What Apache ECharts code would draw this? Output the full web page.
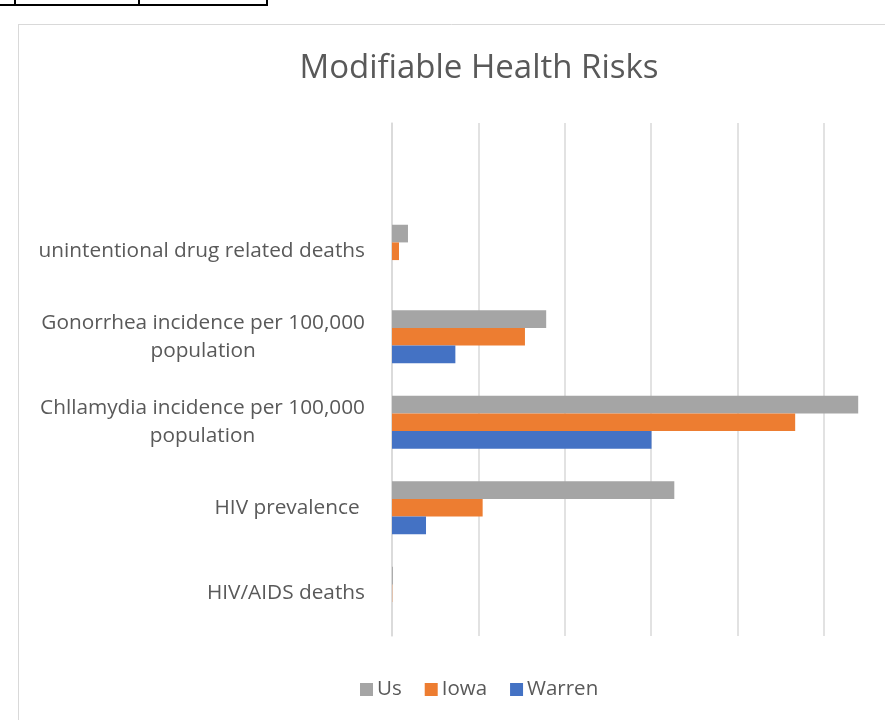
<!DOCTYPE html>
<html><head><meta charset="utf-8">
<script src="https://cdn.jsdelivr.net/npm/echarts@6/dist/echarts.min.js"></script>
<style>html,body{margin:0;padding:0;background:#fff}#c{width:892px;height:720px}</style>
</head><body><div id="c"></div>
<script>
const categories = ['HIV/AIDS deaths', 'HIV prevalence ', 'Chllamydia incidence per 100,000\npopulation', 'Gonorrhea incidence per 100,000\npopulation', 'unintentional drug related deaths', ''];
const usValues = [1, 327, 540, 178.6, 18.5, null];
const iowaValues = [0.3, 105, 467, 154, 8.1, null];
const warrenValues = [0, 39.4, 300.6, 73.4, 0, null];
const seriesNames = ['Us', 'Iowa', 'Warren'];
const colors = {Us: '#a5a5a5', Iowa: '#ed7d31', Warren: '#4472c4'};
const FONT = "'Open Sans', 'Noto Sans', sans-serif";

const chart = echarts.init(document.getElementById('c'), null, {renderer: 'canvas'});
chart.setOption({
  animation: false,
  backgroundColor: '#fff',
  title: {
    text: 'Modifiable Health Risks', left: 474, top: 47, textAlign: 'center',
    textStyle: {fontFamily: FONT, fontSize: 33, fontWeight: 'normal', color: '#595959'}
  },
  graphic: [
    {type: 'line', shape: {x1: 18, y1: 24.5, x2: 885, y2: 24.5}, style: {stroke: '#d9d9d9', lineWidth: 1}},
    {type: 'line', shape: {x1: 18.5, y1: 24, x2: 18.5, y2: 720}, style: {stroke: '#d9d9d9', lineWidth: 1}},
    {type: 'line', shape: {x1: 0, y1: 5, x2: 268, y2: 5}, style: {stroke: '#000', lineWidth: 2}},
    {type: 'line', shape: {x1: 15, y1: 0, x2: 15, y2: 6}, style: {stroke: '#000', lineWidth: 2}},
    {type: 'line', shape: {x1: 139, y1: 0, x2: 139, y2: 6}, style: {stroke: '#000', lineWidth: 2}},
    {type: 'line', shape: {x1: 267, y1: 0, x2: 267, y2: 6}, style: {stroke: '#000', lineWidth: 2}}
  ],
  legend: {
    data: seriesNames, left: 355, top: 674, itemWidth: 13, itemHeight: 13, itemGap: 23,
    icon: 'rect',
    textStyle: {fontFamily: FONT, fontSize: 20.5, color: '#595959', padding: [0, 0, 0, -1]}
  },
  grid: {left: 392, top: 123, right: -18, height: 513, containLabel: false, outerBoundsMode: 'none'},
  xAxis: {
    type: 'value', min: 0, max: 600, interval: 100,
    axisLabel: {show: false}, axisTick: {show: false}, axisLine: {show: false},
    splitLine: {show: true, lineStyle: {color: '#d9d9d9', width: 1.5}}
  },
  yAxis: {
    type: 'category', data: categories,
    axisTick: {show: false},
    axisLine: {show: true, lineStyle: {color: '#d9d9d9', width: 1.5}},
    axisLabel: {
      margin: 27, align: 'right',
      formatter: v => v.split('\n').map(l => '{c|' + l + '}').join('\n'),
      rich: {c: {fontFamily: FONT, fontSize: 20.8, color: '#595959', lineHeight: 28, align: 'center'}}
    }
  },
  series: [
    {name: 'Us', type: 'bar', data: usValues, itemStyle: {color: colors.Us}, barGap: '0%', barCategoryGap: '38%'},
    {name: 'Iowa', type: 'bar', data: iowaValues, itemStyle: {color: colors.Iowa}, barGap: '0%', barCategoryGap: '38%'},
    {name: 'Warren', type: 'bar', data: warrenValues, itemStyle: {color: colors.Warren}, barGap: '0%', barCategoryGap: '38%'}
  ]
});
</script></body></html>
